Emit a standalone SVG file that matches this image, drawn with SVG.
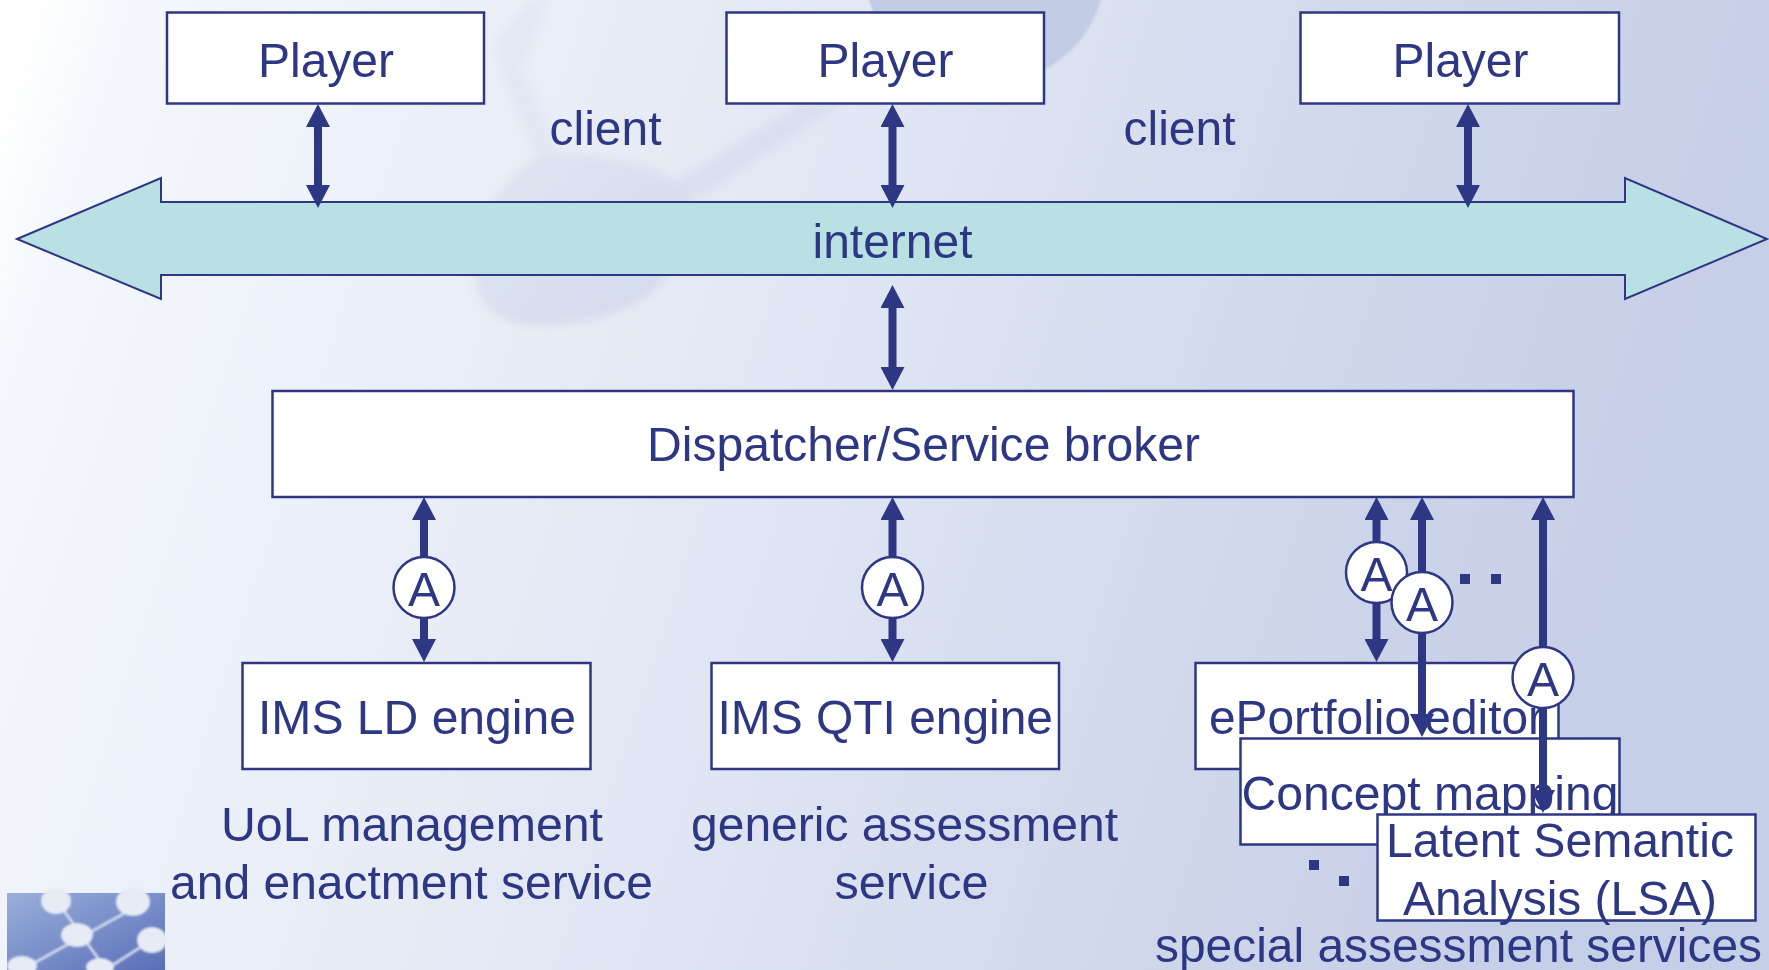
<svg xmlns="http://www.w3.org/2000/svg" width="1769" height="970" viewBox="0 0 1769 970">
<style>
.box{fill:#fff;stroke:#2e3784;stroke-width:2.5}
.t{font-family:"Liberation Sans",Arial,sans-serif;font-size:48px;fill:#2e3784}
.c{stroke:#2e3784;stroke-width:8;fill:none;marker-start:url(#ah);marker-end:url(#ah)}
.ad{fill:#fff;stroke:#2e3784;stroke-width:2.5}
.d{fill:#2e3784}
</style>
<defs>
<linearGradient id="bg" gradientUnits="userSpaceOnUse" x1="0" y1="100" x2="1620" y2="620">
<stop offset="0" stop-color="#ffffff"/><stop offset="0.06" stop-color="#f4f7fc"/><stop offset="0.5" stop-color="#e0e6f3"/><stop offset="0.85" stop-color="#ccd4e9"/><stop offset="1" stop-color="#c6cfe8"/>
</linearGradient>
<linearGradient id="lg" x1="0" y1="0" x2="1" y2="1"><stop offset="0" stop-color="#9aafda"/><stop offset="1" stop-color="#5a6eb8"/></linearGradient>
<linearGradient id="ball" x1="0" y1="0" x2="1" y2="1"><stop offset="0" stop-color="#dfe4f1"/><stop offset="1" stop-color="#cfd6ea"/></linearGradient>
<filter id="soft" x="-10%" y="-10%" width="120%" height="120%"><feGaussianBlur stdDeviation="4"/></filter>
<filter id="soft2" x="-5%" y="-5%" width="110%" height="110%"><feGaussianBlur stdDeviation="1.200"/></filter>
<clipPath id="lgc"><rect x="0" y="880" width="167" height="90"/></clipPath>
<marker id="ah" markerUnits="userSpaceOnUse" markerWidth="24" markerHeight="24" refX="3" refY="12" orient="auto-start-reverse"><path d="M0,0L23,12L0,24Z" fill="#2e3784"/></marker>
</defs>
<g id="background">
<rect width="1769" height="970" fill="url(#bg)"/>
<g filter="url(#soft)">
<path d="M530,0L497,40L499,70L539,163L562,160L522,70L548,0Z" fill="#dde3f1" opacity="0.6"/>
<path d="M660,190L695,170L800,104L840,104L705,195Z" fill="#d5dbec" opacity="0.7"/>
<path d="M540,157C600,150 660,165 690,190C700,210 690,250 659,285C630,315 575,328 525,325C490,320 472,295 475,262C480,220 505,170 540,157Z" fill="url(#ball)" opacity="0.85"/>
</g>
<ellipse cx="985" cy="-30" rx="120" ry="115" fill="#c3cce5" filter="url(#soft2)"/>
</g>
<g id="logo">
<rect x="7" y="893" width="158" height="77" fill="url(#lg)"/>
<g clip-path="url(#lgc)" filter="url(#soft2)">
<path d="M62,908L105,968M134,908L25,968M152,940L108,968" stroke="#cfd9ee" stroke-width="3" fill="none"/>
<g fill="#e6ebf6"><ellipse cx="56" cy="901" rx="15" ry="13"/><ellipse cx="133" cy="902" rx="17" ry="14"/><ellipse cx="77" cy="935" rx="16" ry="12"/><ellipse cx="152" cy="940" rx="15" ry="13"/><ellipse cx="22" cy="966" rx="15" ry="10"/><ellipse cx="100" cy="967" rx="14" ry="9"/></g>
</g>
</g>
<g id="internet"><path d="M17,239L161,178V202H1625V178L1767,239L1625,299V275H161V299Z" fill="#b9e0e3" stroke="#2e3784" stroke-width="2"/><text class="t" x="812.500" y="258" textLength="160" lengthAdjust="spacingAndGlyphs">internet</text></g>
<g id="player1"><rect class="box" x="167" y="12.500" width="317" height="91"/><text class="t" x="258" y="77" textLength="136" lengthAdjust="spacingAndGlyphs">Player</text></g>
<g id="player2"><rect class="box" x="726.500" y="12.500" width="317.500" height="91"/><text class="t" x="817.500" y="77" textLength="136" lengthAdjust="spacingAndGlyphs">Player</text></g>
<g id="player3"><rect class="box" x="1300.500" y="12.500" width="318.500" height="91"/><text class="t" x="1392.500" y="77" textLength="136" lengthAdjust="spacingAndGlyphs">Player</text></g>
<text class="t" x="549.500" y="145" textLength="112" lengthAdjust="spacingAndGlyphs">client</text>
<text class="t" x="1123.500" y="145" textLength="112" lengthAdjust="spacingAndGlyphs">client</text>
<g id="dispatcher"><rect class="box" x="272.500" y="391" width="1301" height="106"/><text class="t" x="647" y="461" textLength="553" lengthAdjust="spacingAndGlyphs">Dispatcher/Service broker</text></g>
<g id="imsld"><rect class="box" x="242.500" y="663" width="348" height="106"/><text class="t" x="258" y="733.500" textLength="318" lengthAdjust="spacingAndGlyphs">IMS LD engine</text></g>
<g id="imsqti"><rect class="box" x="711.500" y="663" width="347.500" height="106"/><text class="t" x="717.500" y="733.500" textLength="335.500" lengthAdjust="spacingAndGlyphs">IMS QTI engine</text></g>
<g id="eportfolio"><rect class="box" x="1195.500" y="663" width="363" height="106"/><text class="t" x="1209" y="733.500" textLength="335" lengthAdjust="spacingAndGlyphs">ePortfolio editor</text></g>
<g id="concept"><rect class="box" x="1240.500" y="738.500" width="379" height="106"/><text class="t" x="1241.500" y="810" textLength="377" lengthAdjust="spacingAndGlyphs">Concept mapping</text></g>
<g id="lsa"><rect class="box" x="1377.500" y="814.500" width="378" height="106"/><text class="t" x="1386" y="857" textLength="348" lengthAdjust="spacingAndGlyphs">Latent Semantic</text><text class="t" x="1403" y="915" textLength="314" lengthAdjust="spacingAndGlyphs">Analysis (LSA)</text></g>
<text class="t" x="221" y="841" textLength="382" lengthAdjust="spacingAndGlyphs">UoL management</text>
<text class="t" x="170" y="899" textLength="483" lengthAdjust="spacingAndGlyphs">and enactment service</text>
<text class="t" x="691" y="841" textLength="427" lengthAdjust="spacingAndGlyphs">generic assessment</text>
<text class="t" x="834.500" y="899" textLength="154" lengthAdjust="spacingAndGlyphs">service</text>
<text class="t" x="1155" y="962" textLength="607" lengthAdjust="spacingAndGlyphs">special assessment services</text>
<g id="connectors">
<line class="c" x1="318" y1="124" x2="318" y2="188"/>
<line class="c" x1="892.500" y1="124" x2="892.500" y2="188"/>
<line class="c" x1="1468" y1="124" x2="1468" y2="188"/>
<line class="c" x1="892.500" y1="305" x2="892.500" y2="370"/>
<line class="c" x1="424" y1="517" x2="424" y2="642"/>
<line class="c" x1="892.500" y1="517" x2="892.500" y2="642"/>
<line class="c" x1="1376.500" y1="517" x2="1376.500" y2="642"/>
<line class="c" x1="1422" y1="517" x2="1422" y2="717"/>
<line class="c" x1="1543" y1="517" x2="1543" y2="793"/>
</g>
<g id="adapters">
<g id="a1"><circle class="ad" cx="424" cy="587.500" r="30.500"/><text class="t" x="408" y="605.500">A</text></g>
<g id="a2"><circle class="ad" cx="892.500" cy="587.500" r="30.500"/><text class="t" x="876.500" y="605.500">A</text></g>
<g id="a3"><circle class="ad" cx="1376.500" cy="572.500" r="30.500"/><text class="t" x="1360.500" y="590.500">A</text></g>
<g id="a4"><circle class="ad" cx="1422" cy="602.500" r="30.500"/><text class="t" x="1406" y="620.500">A</text></g>
<g id="a5"><circle class="ad" cx="1543" cy="677.500" r="30.500"/><text class="t" x="1527" y="695.500">A</text></g>
</g>
<g id="dots">
<rect class="d" x="1460" y="574" width="10" height="10"/><rect class="d" x="1491" y="574" width="10" height="10"/>
<rect class="d" x="1309" y="860" width="10" height="10"/><rect class="d" x="1339" y="876" width="10" height="10"/>
</g>
</svg>
